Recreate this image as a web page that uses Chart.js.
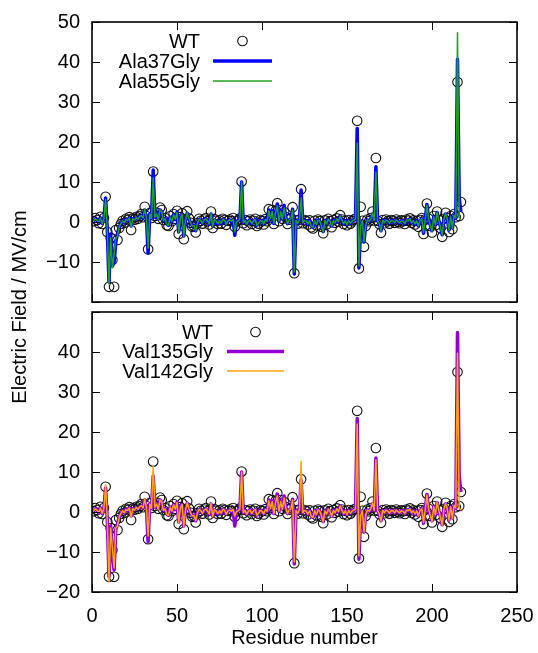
<!DOCTYPE html>
<html>
<head>
<meta charset="UTF-8">
<script src="https://cdn.jsdelivr.net/npm/chart.js@4"></script>
<style>
  body { margin: 0; background: #fff; }
  #wrap { position: relative; width: 538px; height: 653px; overflow: hidden; }
  canvas { position: absolute; left: 0; }
  #ytitle {
    position: absolute; left: -130px; top: 295px; width: 300px; height: 24px;
    line-height: 24px; text-align: center; transform: rotate(-90deg);
    font: 20px "Liberation Sans", Arial, sans-serif; color: #000;
  }
</style>
</head>
<body>
<div id="wrap">
  <canvas id="top" width="538" height="316" style="top:0"></canvas>
  <canvas id="bot" width="538" height="355" style="top:298px"></canvas>
  <div id="ytitle">Electric Field / MV/cm</div>
</div>
<script>
// residue numbers 1..217
const residues = [];
for (let r = 1; r <= 217; r++) residues.push(r);

const xTicks = [0, 50, 100, 150, 200, 250];
const yTicks = [-20, -10, 0, 10, 20, 30, 40, 50];

// wild type field per residue
const wt = [
  0.2, 1.0, 0.5, -0.3, 1.3, -0.5, 1.0, 6.3, -2.5, -16.2,
  -4.0, -9.5, -16.2, -2.0, -4.5, -1.5, -0.5, 0.3, -0.2, 0.8,
  0.5, 1.2, -2.0, 0.9, 0.6, 1.3, 0.8, 1.5, 2.0, 1.2,
  3.8, 1.5, -6.8, 2.2, 1.0, 12.6, 1.5, 2.3, 0.8, 3.6,
  3.0, 0.5, 1.0, -0.8, -1.0, 1.5, 0.2, 2.0, 0.8, 2.8,
  -3.0, 1.2, 2.2, -4.3, 0.6, 2.7, 0.9, -0.2, -1.2, -1.0,
  -2.6, -0.3, 0.8, 0.3, -0.4, 0.6, 1.0, 0.2, -0.6, 2.6,
  -1.5, 0.7, 0.3, -0.5, 0.4, -0.4, 0.8, 0.5, -0.7, 0.3,
  0.6, 0.2, 1.0, -1.2, 0.1, 0.4, 0.9, 10.1, -0.3, 0.5,
  -0.8, 0.2, 0.6, -0.5, 0.3, 0.8, -1.0, -0.4, 0.5, 0.2,
  -0.6, 0.7, 0.2, 3.2, 1.0, 3.0, -0.5, 2.8, 4.7, 0.2,
  3.0, 0.8, 2.5, 1.2, -0.5, 0.6, 1.0, 3.7, -12.8, 0.4,
  -0.4, 0.6, 8.2, -0.3, 0.5, 0.2, -0.6, 0.4, -1.3, -1.6,
  0.3, -0.8, 0.6, 0.2, -1.2, -2.8, 0.4, -0.6, 0.8, 0.2,
  -1.3, 0.5, -0.2, 0.9, 0.1, 1.7, 0.6, -0.5, 0.3, -0.8,
  0.5, -0.4, 0.2, 0.6, 0.8, 25.3, -11.6, 3.8, 0.3, -6.2,
  -1.0, 0.6, 0.2, 1.0, 2.6, 0.4, 16.0, 0.3, -0.5, -2.7,
  0.5, -0.3, 0.6, 0.2, -0.4, 0.5, 0.3, -0.2, 0.6, 0.1,
  -0.3, 0.4, 0.2, -0.5, 0.6, 0.3, 0.9, -0.2, 0.4, -0.6,
  0.3, -1.2, 0.5, 1.0, -3.0, 0.6, 4.6, 0.8, -1.0, -2.6,
  1.5, -0.8, 2.6, 0.5, -1.5, -3.7, 0.8, 2.3, 1.0, -2.5,
  1.5, -1.8, 2.0, 1.2, 35.0, 1.5, 5.0
];

const ala37 = [
  0.3, 0.8, 0.5, -0.2, 1.0, -0.3, 0.8, 6.0, -2.0, -15.0,
  -3.0, -11.0, -10.0, -5.0, -3.0, -1.2, -0.5, 0.3, -0.2, 0.6,
  0.5, 1.0, -1.0, 0.8, 0.6, 1.0, 0.8, 1.2, 1.5, 1.0,
  3.0, 1.2, -7.8, 2.0, 1.0, 13.0, 1.2, 2.0, 0.8, 3.0,
  2.5, 0.5, 0.8, -0.5, -0.8, 1.2, 0.2, 1.8, 0.6, 2.4,
  -2.5, 1.0, 1.8, -3.5, 0.5, 2.2, 0.8, -0.2, -1.0, -0.8,
  -2.2, -0.3, 0.6, 0.3, -0.3, 0.5, 0.8, 0.2, -0.5, 2.0,
  -1.0, 0.5, 0.3, -0.4, 0.3, -0.3, 0.6, 0.4, -0.5, 0.3,
  0.5, 0.2, 0.5, -3.3, 0.1, 0.3, 0.6, 10.0, -0.2, 0.4,
  -0.5, 0.2, 0.5, -0.4, 0.3, 0.6, -0.8, -0.3, 0.4, 0.2,
  -0.4, 0.6, 0.2, 3.0, 1.0, 2.8, -0.4, 2.6, 4.5, 0.2,
  2.8, 0.8, 4.2, 1.0, -0.4, 0.5, 0.8, 3.2, -13.0, 0.4,
  -0.3, 0.5, 8.0, -0.2, 0.4, 0.2, -0.5, 0.3, -1.0, -1.3,
  0.3, -0.6, 0.5, 0.2, -1.0, -2.4, 0.3, -0.5, 0.6, 0.2,
  -1.0, 0.4, -0.2, 0.7, 0.1, 1.4, 0.5, -0.4, 0.3, -0.6,
  0.4, -0.3, 0.2, 0.5, 0.6, 23.4, -11.5, -1.0, 0.3, -5.0,
  -0.8, 0.5, 0.2, 0.8, 2.0, 0.4, 13.8, 0.3, -0.4, -2.2,
  0.4, -0.2, 0.5, 0.2, -0.3, 0.4, 0.3, -0.2, 0.5, 0.1,
  -0.2, 0.3, 0.2, -0.4, 0.5, 0.3, 0.7, -0.2, 0.3, -0.5,
  0.3, -1.0, 0.4, 0.8, -2.8, 0.5, 4.4, 0.7, -0.8, -2.2,
  1.3, -0.6, 2.4, 0.4, -1.2, -3.2, 0.7, 2.0, 0.8, -2.0,
  1.2, -1.5, 1.6, 1.0, 40.7, 6.0, 2.5
];

const ala55 = [
  0.3, 0.8, 0.4, -0.2, 1.0, -0.4, 0.8, 5.6, -2.0, -15.5,
  -4.0, -11.5, -8.0, -4.0, -3.5, -1.2, -0.4, 0.3, -0.2, 0.6,
  0.4, 1.0, -1.2, 0.8, 0.5, 1.1, 0.7, 1.3, 1.6, 1.0,
  3.2, 1.2, -6.5, 2.0, 0.9, 11.0, 1.2, 2.0, 0.7, 3.0,
  2.6, 0.4, 0.8, -0.6, -0.8, 1.2, 0.2, 1.8, 0.7, 2.4,
  -2.6, 1.0, 1.9, -3.6, 0.5, 2.3, 0.8, -0.2, -1.0, -0.9,
  -2.2, -0.3, 0.7, 0.3, -0.3, 0.5, 0.8, 0.2, -0.5, 2.1,
  -1.1, 0.6, 0.3, -0.4, 0.3, -0.3, 0.7, 0.4, -0.6, 0.3,
  0.5, 0.2, 0.7, -2.5, 0.1, 0.3, 0.7, 10.0, -0.2, 0.4,
  -0.6, 0.2, 0.5, -0.4, 0.3, 0.7, -0.8, -0.3, 0.4, 0.2,
  -0.5, 0.6, 0.2, 2.8, 0.9, 2.6, -0.4, 2.4, 4.0, 0.2,
  2.6, 0.7, 3.5, 1.0, -0.4, 0.5, 0.8, 3.0, -12.5, 0.4,
  -0.3, 0.5, 6.0, -0.2, 0.4, 0.2, -0.5, 0.3, -1.1, -1.3,
  0.3, -0.7, 0.5, 0.2, -1.0, -2.5, 0.3, -0.5, 0.7, 0.2,
  -1.1, 0.4, -0.2, 0.8, 0.1, 1.5, 0.5, -0.4, 0.3, -0.7,
  0.4, -0.3, 0.2, 0.5, 0.7, 19.7, -11.0, -1.0, 0.3, -5.0,
  -0.8, 0.5, 0.2, 0.8, 2.2, 0.4, 12.5, 0.3, -0.4, -2.3,
  0.4, -0.2, 0.5, 0.2, -0.3, 0.4, 0.3, -0.2, 0.5, 0.1,
  -0.2, 0.3, 0.2, -0.4, 0.5, 0.3, 0.8, -0.2, 0.3, -0.5,
  0.3, -1.0, 0.4, 0.8, -2.6, 0.5, 4.2, 0.7, -0.8, -2.3,
  1.3, -0.7, 2.5, 0.4, -1.3, -3.3, 0.7, 2.1, 0.8, -2.1,
  1.3, -1.6, 1.7, 1.0, 47.3, 1.0, 1.0
];

const val135 = [
  0.3, 0.8, 0.5, -0.2, 1.0, -0.4, 0.8, 6.0, -2.0, -16.2,
  -3.5, -11.0, -14.5, -4.5, -3.0, -1.2, -0.5, 0.3, -0.2, 0.6,
  0.5, 1.0, -1.0, 0.8, 0.6, 1.0, 0.8, 1.2, 1.5, 1.0,
  3.0, 1.2, -7.5, 2.0, 1.0, 9.0, 1.2, 2.0, 0.8, 3.0,
  2.5, 0.5, 0.8, -0.5, -0.8, 1.2, 0.2, 1.8, 0.6, 2.4,
  -2.5, 1.0, 1.8, -3.5, 0.5, 2.2, 0.8, -0.2, -1.0, -0.8,
  -2.2, -0.3, 0.6, 0.3, -0.3, 0.5, 0.8, 0.2, -0.5, 2.0,
  -1.0, 0.5, 0.3, -0.4, 0.3, -0.3, 0.6, 0.4, -0.5, 0.3,
  0.5, 0.2, 0.5, -3.5, 0.1, 0.3, 0.6, 10.0, -0.2, 0.4,
  -0.5, 0.2, 0.5, -0.4, 0.3, 0.6, -0.8, -0.3, 0.4, 0.2,
  -0.4, 0.6, 0.2, 3.0, 1.0, 2.8, -0.4, 2.6, 4.5, 0.2,
  2.8, 0.8, 4.0, 1.0, -0.4, 0.5, 0.8, 3.2, -13.0, 0.4,
  -0.3, 0.5, 8.0, -0.2, 0.4, 0.2, -0.5, 0.3, -1.0, -1.3,
  0.3, -0.6, 0.5, 0.2, -1.0, -2.4, 0.3, -0.5, 0.6, 0.2,
  -1.0, 0.4, -0.2, 0.7, 0.1, 1.4, 0.5, -0.4, 0.3, -0.6,
  0.4, -0.3, 0.2, 0.5, 0.6, 23.4, -11.8, -1.0, 0.3, -5.0,
  -0.8, 0.5, 0.2, 0.8, 2.0, 0.4, 13.5, 0.3, -0.4, -2.2,
  0.4, -0.2, 0.5, 0.2, -0.3, 0.4, 0.3, -0.2, 0.5, 0.1,
  -0.2, 0.3, 0.2, -0.4, 0.5, 0.3, 0.7, -0.2, 0.3, -0.5,
  0.3, -1.0, 0.4, 0.8, -2.8, 0.5, 4.4, 0.7, -0.8, -2.2,
  1.3, -0.6, 2.4, 0.4, -1.2, -3.2, 0.7, 2.0, 0.8, -2.0,
  1.2, -1.5, 1.6, 1.0, 44.9, 9.0, 5.0
];

const val142 = [
  0.3, 0.8, 0.4, -0.2, 1.0, -0.4, 0.8, 6.8, -2.0, -17.4,
  -4.0, -9.0, -14.0, -4.0, -3.5, -1.2, -0.4, 0.3, -0.2, 0.6,
  0.4, 1.0, -1.2, 0.8, 0.5, 1.1, 0.7, 1.3, 1.6, 1.0,
  3.2, 1.2, -6.0, 2.0, 0.9, 11.5, 1.2, 2.0, 0.7, 3.0,
  2.6, 0.4, 0.8, -0.6, -0.8, 1.2, 0.2, 1.8, 0.7, 2.4,
  -2.6, 1.0, 1.9, -3.6, 0.5, 2.3, 0.8, -0.2, -1.0, -0.9,
  -2.2, -0.3, 0.7, 0.3, -0.3, 0.5, 0.8, 0.2, -0.5, 2.1,
  -1.1, 0.6, 0.3, -0.4, 0.3, -0.3, 0.7, 0.4, -0.6, 0.3,
  0.5, 0.2, 0.7, -1.0, 0.1, 0.3, 0.7, 10.0, -0.2, 0.4,
  -0.6, 0.2, 0.5, -0.4, 0.3, 0.7, -0.8, -0.3, 0.4, 0.2,
  -0.5, 0.6, 0.2, 2.8, 0.9, 2.6, -0.4, 2.4, 4.0, 0.2,
  2.6, 0.7, 3.5, 1.0, -0.4, 0.5, 0.8, 3.0, -12.5, 0.4,
  -0.3, 0.5, 12.6, -0.2, 0.4, 0.2, -0.5, 0.3, -1.1, -1.3,
  0.3, -0.7, 0.5, 0.2, -1.0, -2.5, 0.3, -0.5, 0.7, 0.2,
  -1.1, 0.4, -0.2, 0.8, 0.1, 1.5, 0.5, -0.4, 0.3, -0.7,
  0.4, -0.3, 0.2, 0.5, 0.7, 22.0, -11.0, -1.0, 0.3, -5.0,
  -0.8, 0.5, 0.2, 0.8, 2.2, 0.4, 13.0, 0.3, -0.4, -2.3,
  0.4, -0.2, 0.5, 0.2, -0.3, 0.4, 0.3, -0.2, 0.5, 0.1,
  -0.2, 0.3, 0.2, -0.4, 0.5, 0.3, 0.8, -0.2, 0.3, -0.5,
  0.3, -1.0, 0.4, 0.8, -2.6, 0.5, 4.2, 0.7, -0.8, -2.3,
  1.3, -0.7, 2.5, 0.4, -1.3, -3.3, 0.7, 2.1, 0.8, -2.1,
  1.3, -1.6, 1.7, 1.0, 39.7, 1.0, 0.5
];

const FONT = '"Liberation Sans", Arial, sans-serif';
const pts = vals => residues.map((r, i) => ({ x: r, y: vals[i] }));

// gnuplot-like frame with inward ticks on all four sides
const framePlugin = {
  id: 'frame',
  afterDatasetsDraw(chart) {
    const { ctx, chartArea: a, scales } = chart;
    const len = 8;
    ctx.save();
    ctx.strokeStyle = '#000';
    ctx.lineWidth = 1;
    ctx.beginPath();
    xTicks.forEach(v => {
      const px = Math.round(scales.x.getPixelForValue(v)) + 0.5;
      ctx.moveTo(px, a.bottom); ctx.lineTo(px, a.bottom - len);
      ctx.moveTo(px, a.top); ctx.lineTo(px, a.top + len);
    });
    yTicks.forEach(v => {
      const py = Math.round(scales.y.getPixelForValue(v)) + 0.5;
      ctx.moveTo(a.left, py); ctx.lineTo(a.left + len, py);
      ctx.moveTo(a.right, py); ctx.lineTo(a.right - len, py);
    });
    ctx.stroke();
    ctx.lineWidth = 1.6;
    ctx.strokeRect(a.left, a.top, a.right - a.left, a.bottom - a.top);
    ctx.restore();
  }
};

// key drawn inside the plot, text right-aligned, sample to the right
const keyPlugin = {
  id: 'key',
  afterDraw(chart, args, opts) {
    const { ctx, chartArea: a } = chart;
    ctx.save();
    ctx.font = '20px ' + FONT;
    ctx.textAlign = 'right';
    ctx.textBaseline = 'middle';
    ctx.fillStyle = '#000';
    const items = chart.data.datasets.slice().sort((p, q) => p.keyIndex - q.keyIndex);
    items.forEach((ds, i) => {
      const y = a.top + opts.y0 + i * opts.dy;
      ctx.fillText(ds.label, a.left + opts.textRight, y + 1);
      const x1 = a.left + opts.s0, x2 = a.left + opts.s1;
      if (ds.showLine === false) {
        ctx.beginPath();
        ctx.lineWidth = ds.pointBorderWidth;
        ctx.strokeStyle = ds.pointBorderColor;
        ctx.arc((x1 + x2) / 2, y, ds.pointRadius, 0, Math.PI * 2);
        ctx.stroke();
      } else {
        ctx.beginPath();
        ctx.lineWidth = ds.borderWidth;
        ctx.strokeStyle = ds.borderColor;
        ctx.moveTo(x1, y); ctx.lineTo(x2, y);
        ctx.stroke();
      }
    });
    ctx.restore();
  }
};

// drop the label-overflow padding so the plot box sits exactly where the layout puts it
const noPad = s => { s.paddingLeft = 0; s.paddingRight = 0; s.paddingTop = 0; s.paddingBottom = 0; };

function makeChart(id, thick, thin, showX, pad, key, hideTick) {
  const datasets = [
    { label: 'WT', data: pts(wt), showLine: false, pointRadius: 4.8,
      pointBorderColor: '#111', pointBorderWidth: 1.1, pointBackgroundColor: 'rgba(0,0,0,0)',
      order: 3, keyIndex: 0 },
    { label: thick.label, data: pts(thick.data), showLine: true, borderColor: thick.color,
      borderWidth: 3.5, pointRadius: 0, tension: 0, order: 2, keyIndex: 1, borderJoinStyle: 'round' },
    { label: thin.label, data: pts(thin.data), showLine: true, borderColor: thin.color,
      borderWidth: 1.5, pointRadius: 0, tension: 0, order: 1, keyIndex: 2, borderJoinStyle: 'round' }
  ];
  return new Chart(document.getElementById(id), {
    type: 'scatter',
    data: { datasets },
    plugins: [framePlugin, keyPlugin],
    options: {
      responsive: false,
      animation: false,
      devicePixelRatio: 1,
      layout: { padding: pad },
      plugins: { legend: { display: false }, tooltip: { enabled: false }, key },
      scales: {
        x: {
          type: 'linear', min: 0, max: 250,
          grid: { display: false, drawTicks: false },
          border: { display: false },
          ticks: {
            display: showX, stepSize: 50, padding: 12, color: '#000',
            font: { size: 20, family: FONT }, maxRotation: 0
          },
          title: {
            display: showX, text: 'Residue number', color: '#000',
            font: { size: 20, family: FONT }, padding: { top: 0, bottom: 3 }
          },
          afterFit: s => { s.height = showX ? 61 : 0; noPad(s); }
        },
        y: {
          type: 'linear', min: -20, max: 50,
          grid: { display: false, drawTicks: false },
          border: { display: false },
          ticks: {
            stepSize: 10, padding: 12, color: '#000',
            font: { size: 20, family: FONT },
            callback: v => (v === hideTick ? '' : (v < 0 ? '\u2212' + Math.abs(v) : String(v)))
          },
          afterFit: s => { s.width = 92; noPad(s); }
        }
      }
    }
  });
}

makeChart('top',
  { label: 'Ala37Gly', data: ala37, color: '#0000ff' },
  { label: 'Ala55Gly', data: ala55, color: '#1fa31f' },
  false, { top: 22, right: 21, bottom: 14, left: 0 },
  { y0: 19, dy: 20, textRight: 108, s0: 121, s1: 180 }, -20);

makeChart('bot',
  { label: 'Val135Gly', data: val135, color: '#9400d3' },
  { label: 'Val142Gly', data: val142, color: '#ffa20f' },
  true, { top: 14, right: 21, bottom: 0, left: 0 },
  { y0: 20, dy: 19.5, textRight: 121, s0: 135, s1: 192 }, 50);
</script>
</body>
</html>
